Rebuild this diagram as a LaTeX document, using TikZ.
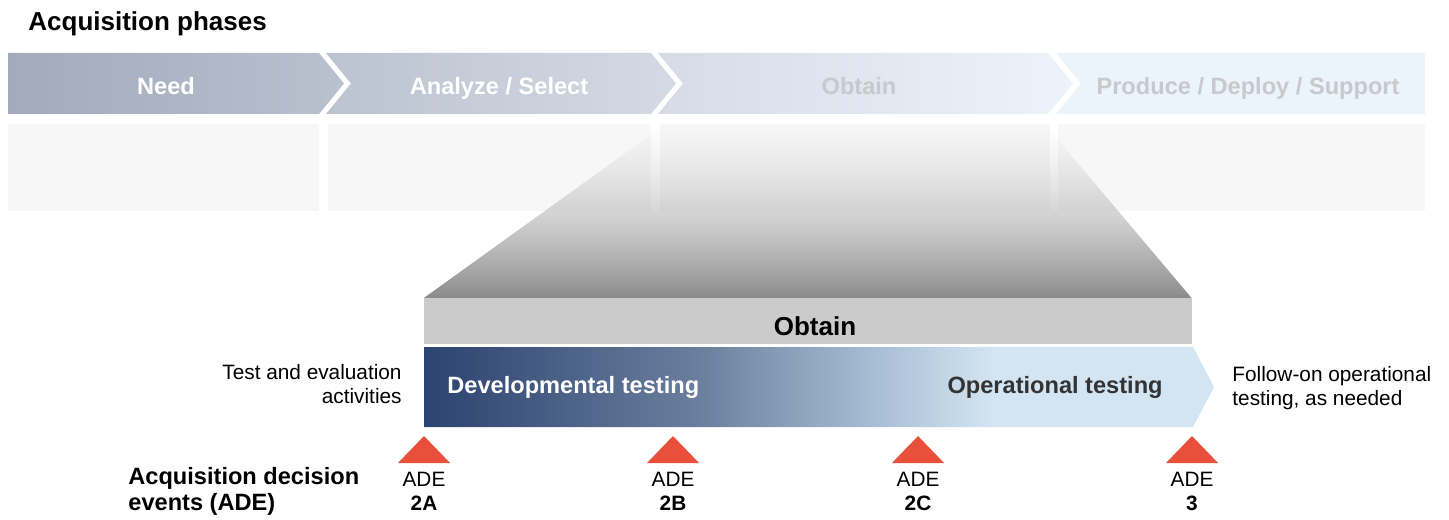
\documentclass[tikz,border=0pt]{standalone}
\usepackage{fontspec}
\setmainfont{Liberation Sans}
\usetikzlibrary{fadings}

\definecolor{needL}{HTML}{A2AABC}
\definecolor{needR}{HTML}{B9C0CE}
\definecolor{anaL}{HTML}{BCC3D0}
\definecolor{anaR}{HTML}{D3DAE4}
\definecolor{obtL}{HTML}{D5DCE6}
\definecolor{obtR}{HTML}{ECF3FA}
\definecolor{prodC}{HTML}{EBF3FB}
\definecolor{fadedtext}{HTML}{C6C9CD}
\definecolor{boxgray}{HTML}{F7F7F7}
\definecolor{bandgray}{HTML}{CBCBCB}
\definecolor{funnelT}{HTML}{CDCDCD}
\definecolor{funnelB}{HTML}{8A8A8A}
\definecolor{devblue}{HTML}{2C4270}
\definecolor{midblueA}{HTML}{6B7F9E}
\definecolor{midblueB}{HTML}{A2B8D0}
\definecolor{opblue}{HTML}{D3E5F3}
\definecolor{optext}{HTML}{333333}
\definecolor{adered}{HTML}{E9503B}

\pgfdeclarehorizontalshading{testshade}{100bp}{color(0bp)=(devblue); color(25bp)=(devblue);
  color(42.5bp)=(midblueA); color(52.5bp)=(midblueB); color(61bp)=(opblue); color(100bp)=(opblue)}

\begin{document}
\begin{tikzpicture}[x=0.5pt,y=-0.5pt,
  every node/.style={font=\fontsize{10.4}{12}\selectfont,inner sep=0pt},
  phase/.style={font=\fontsize{11.8}{14}\selectfont\bfseries,anchor=base},
  boldlbl/.style={font=\fontsize{11.8}{13}\selectfont\bfseries}]
  \useasboundingbox (0,0) rectangle (1449,519);

  \node[anchor=base west,font=\fontsize{13}{15}\selectfont\bfseries] (title)
    at (28,31) {Acquisition phases};

  % phase chevrons
  \shade[left color=needL,right color=needR]
    (8,53) -- (319,53) -- (344,83.5) -- (319,114) -- (8,114) -- cycle;
  \shade[left color=anaL,right color=anaR]
    (326,53) -- (651,53) -- (676,83.5) -- (651,114) -- (326,114) -- (351,83.5) -- cycle;
  \shade[left color=obtL,right color=obtR]
    (658,53) -- (1048,53) -- (1073,83.5) -- (1048,114) -- (658,114) -- (683,83.5) -- cycle;
  \fill[prodC]
    (1056,53) -- (1425,53) -- (1425,114) -- (1056,114) -- (1081,83.5) -- cycle;
  \node[phase,white] (need) at (166,95) {Need};
  \node[phase,white] (analyze) at (499,95) {Analyze / Select};
  \node[phase,fadedtext] (obtain) at (859,95) {Obtain};
  \node[phase,fadedtext] (produce) at (1248,95) {Produce / Deploy / Support};

  % empty boxes below the phases
  \fill[boxgray] (8,124) rectangle (319,211);
  \fill[boxgray] (328,124) rectangle (651,211);
  \fill[boxgray] (660,124) rectangle (1050,211);
  \fill[boxgray] (1058,124) rectangle (1425,211);

  % zoom funnel
  \shade[top color=funnelT,bottom color=funnelB,path fading=north]
    (666,124) -- (1045,124) -- (1192,298) -- (424,298) -- cycle;

  \node[fill=bandgray,minimum width=384pt,minimum height=23pt,anchor=north west]
    (obtainband) at (424,298) {};
  \node[anchor=base,font=\fontsize{13}{15}\selectfont\bfseries] (obtainlbl)
    at (815,335) {Obtain};

  % testing arrow
  \shade[shading=testshade]
    (424,347) -- (1193,347) -- (1214,387) -- (1193,427) -- (424,427) -- cycle;
  \node[boldlbl,anchor=base west,white] (devtest) at (447,393) {Developmental testing};
  \node[boldlbl,anchor=base east,optext] (optest) at (1163,393) {Operational testing};

  \node[anchor=east,align=right] (tande) at (402,384) {Test and evaluation\\activities};
  \node[anchor=west,align=left] (followon) at (1232,388) {Follow-on operational\\testing, as needed};

  % decision events
  \node[boldlbl,anchor=west,align=left] (adelbl) at (128,491) {Acquisition decision\\events (ADE)};
  \foreach \x/\id/\num in {424/A/2A,673/B/2B,918/C/2C,1192/D/3} {
    \fill[adered] (\x,436) -- (\x+26,463) -- (\x-26,463) -- cycle;
    \node[anchor=base] (ade\id) at (\x,486) {ADE};
    \node[anchor=base,font=\fontsize{10.4}{12}\selectfont\bfseries] (num\id) at (\x,510) {\num};
  }
\end{tikzpicture}
\end{document}
